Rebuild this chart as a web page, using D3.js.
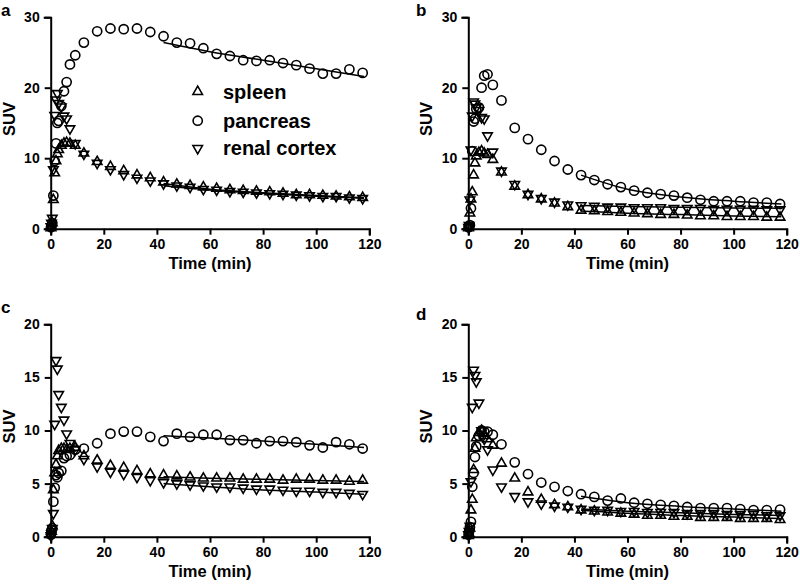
<!DOCTYPE html>
<html>
<head>
<meta charset="utf-8">
<script src="https://cdn.jsdelivr.net/npm/d3@7"></script>
<style>
  html, body { margin: 0; padding: 0; background: #fff; }
  svg { display: block; }
  text { font-family: "Liberation Sans", Arial, sans-serif; font-weight: bold; fill: #000; }
</style>
</head>
<body>
<svg id="chart" width="800" height="587"></svg>
<script>
// ---------------- DATA ----------------
const times = [0.1, 0.3, 0.6, 1.0, 1.5, 2.0, 2.5, 3.0, 4.0, 5.0, 6.0, 7.25, 9.25,
  12.5, 17.5, 22.5, 27.5, 32.5, 37.5, 42.5, 47.5, 52.5, 57.5, 62.5, 67.5, 72.5,
  77.5, 82.5, 87.5, 92.5, 97.5, 102.5, 107.5, 112.5, 117.5];

const seriesNames = ["spleen", "pancreas", "renal cortex"];
const panelLetters = ["a", "b", "c", "d"];
const xTicks = [0, 20, 40, 60, 80, 100, 120];
const yTicksTop = [0, 10, 20, 30];
const yTicksBottom = [0, 5, 10, 15, 20];

// panel a
const spleenA = [0.1,0.3,0.8,4.1,7.9,9.6,10.6,11.2,11.8,12.1,12.2,12.1,11.8,
  10.7,9.5,8.8,8.2,7.6,7.2,6.6,6.3,6.1,5.9,5.7,5.5,5.4,5.3,5.2,5.0,4.8,4.8,4.7,4.6,4.5,4.4];
const pancreasA = [0.2,0.4,0.8,4.7,9.6,12.1,15.0,15.3,17.4,19.5,20.8,23.3,24.6,
  26.4,28.0,28.4,28.3,28.4,27.9,27.3,26.4,26.3,25.6,24.8,24.5,23.9,23.8,23.9,23.5,23.2,22.7,22.0,22.0,22.6,22.1];
const renalA = [0.3,0.8,1.5,8.4,16.1,18.3,19.2,17.8,17.3,16.0,15.6,14.2,12.1,
  10.6,9.3,8.4,7.7,7.2,6.8,6.4,6.1,5.9,5.6,5.5,5.3,5.2,5.1,5.0,4.9,4.8,4.7,4.6,4.6,4.4,4.3];

// panel b
const spleenB = [0.1,0.3,2.2,4.2,5.2,7.6,9.3,10.3,10.8,11.0,10.7,10.5,9.8,
  8.0,6.0,4.8,4.2,3.6,3.1,2.6,2.5,2.4,2.3,2.2,2.1,2.0,2.0,1.9,1.8,1.8,1.7,1.7,1.7,1.6,1.6];
const pancreasB = [0.2,0.3,0.5,2.9,11.0,15.2,15.6,17.0,17.2,20.0,21.7,21.9,20.4,
  18.2,14.3,12.7,11.2,9.6,8.4,7.6,6.9,6.3,5.9,5.4,5.1,4.9,4.7,4.4,4.1,3.9,3.9,3.9,3.7,3.7,3.5];
const renalB = [0.2,0.5,4.1,11.2,16.0,18.0,17.7,17.2,16.8,15.8,15.6,13.2,10.9,
  8.2,6.3,4.9,4.3,3.8,3.4,3.3,3.2,3.1,3.1,3.0,3.0,3.0,2.9,2.9,2.9,2.8,2.8,2.8,2.8,2.7,2.7];

// panel c
const spleenC = [0.2,0.5,1.0,4.4,6.0,6.8,7.6,8.1,8.3,8.3,8.2,8.3,8.4,
  7.6,7.2,6.7,6.5,6.2,5.9,5.8,5.7,5.6,5.5,5.5,5.5,5.4,5.4,5.4,5.3,5.4,5.4,5.3,5.3,5.2,5.3];
const pancreasC = [0.2,0.6,0.8,3.3,4.6,5.8,5.6,6.0,6.2,7.4,7.6,7.7,8.2,
  8.3,8.8,9.7,9.9,9.9,9.4,9.0,9.7,9.4,9.6,9.6,9.1,9.1,8.8,9.0,9.0,8.9,8.6,8.4,8.9,8.7,8.3];
const renalC = [0.1,0.3,0.8,2.2,10.6,16.6,15.8,13.4,12.2,11.0,9.7,8.8,8.2,
  7.3,6.6,6.1,5.9,5.6,5.3,5.1,5.0,4.9,4.8,4.7,4.7,4.6,4.5,4.5,4.4,4.3,4.3,4.2,4.2,4.1,4.0];

// panel d
const spleenD = [0.1,0.3,0.8,2.5,3.5,6.3,8.3,9.3,9.8,10.0,9.5,9.2,8.6,
  6.9,5.5,4.2,3.5,3.0,2.8,2.5,2.4,2.3,2.2,2.1,2.0,2.0,1.9,1.9,1.8,1.8,1.8,1.7,1.7,1.7,1.6];
const pancreasD = [0.2,0.5,0.9,1.4,4.7,6.0,7.5,8.5,9.5,10.0,9.9,9.9,9.6,
  8.7,7.0,5.9,5.1,4.7,4.3,4.0,3.75,3.4,3.6,3.2,3.1,3.0,2.9,2.8,2.7,2.7,2.7,2.6,2.5,2.5,2.55];
const renalD = [0.2,0.5,1.0,5.2,12.2,15.7,15.2,14.6,12.6,10.0,9.2,8.2,6.3,
  4.7,3.8,3.3,3.1,2.9,2.8,2.6,2.5,2.5,2.4,2.4,2.3,2.3,2.3,2.2,2.2,2.2,2.1,2.1,2.1,2.0,2.0];

// fitted curves (late phase)
const fitTimes = [42.5, 60, 80, 100, 118];
const fitSpleenA = [6.4, 5.6, 5.1, 4.7, 4.4];
const fitPancreasA = [26.4, 25.1, 23.9, 22.7, 21.6];
const fitRenalA = [6.1, 5.5, 5.0, 4.6, 4.3];
const fitSpleenB = [2.5, 2.2, 2.0, 1.8, 1.7];
const fitPancreasB = [7.6, 5.6, 4.5, 3.9, 3.5];
const fitRenalB = [3.3, 3.15, 3.05, 2.95, 2.9];
const fitSpleenC = [5.65, 5.5, 5.4, 5.3, 5.2];
const fitPancreasC = [9.5, 9.3, 9.0, 8.7, 8.4];
const fitRenalC = [5.0, 4.7, 4.4, 4.2, 4.0];
const fitSpleenD = [2.5, 2.2, 2.0, 1.85, 1.7];
const fitPancreasD = [3.8, 3.2, 2.85, 2.6, 2.4];
const fitRenalD = [2.6, 2.4, 2.25, 2.1, 2.0];

// ---------------- LAYOUT ----------------
const svg = d3.select("#chart");
const panels = [
  { letter: panelLetters[0], data: [spleenA, pancreasA, renalA], fits: [fitSpleenA, fitPancreasA, fitRenalA],
    yMax: 30, yTicks: yTicksTop, x0: 50.7, x1: 369.3, y0: 228.7, y1: 17.2, lx: 1, ly: 16, legend: true },
  { letter: panelLetters[1], data: [spleenB, pancreasB, renalB], fits: [fitSpleenB, fitPancreasB, fitRenalB],
    yMax: 30, yTicks: yTicksTop, x0: 468.3, x1: 786.7, y0: 228.7, y1: 17.2, lx: 416, ly: 16 },
  { letter: panelLetters[2], data: [spleenC, pancreasC, renalC], fits: [fitSpleenC, fitPancreasC, fitRenalC],
    yMax: 20, yTicks: yTicksBottom, x0: 50.7, x1: 369.3, y0: 536.7, y1: 324.3, lx: 1, ly: 313 },
  { letter: panelLetters[3], data: [spleenD, pancreasD, renalD], fits: [fitSpleenD, fitPancreasD, fitRenalD],
    yMax: 20, yTicks: yTicksBottom, x0: 468.3, x1: 786.7, y0: 536.7, y1: 324.3, lx: 416, ly: 320 }
];

const triS = 9.5, triH = triS * Math.sqrt(3) / 2;
const upTri = `M0,${-2*triH/3}L${triS/2},${triH/3}L${-triS/2},${triH/3}Z`;
const downTri = `M0,${2*triH/3}L${triS/2},${-triH/3}L${-triS/2},${-triH/3}Z`;

function drawMarker(g, kind, x, y) {
  if (kind === 1) {
    g.append("circle").attr("cx", x).attr("cy", y).attr("r", 4.6)
      .attr("fill", "none").attr("stroke", "#000").attr("stroke-width", 1.6);
  } else {
    g.append("path").attr("d", kind === 0 ? upTri : downTri)
      .attr("transform", `translate(${x},${y})`)
      .attr("fill", "none").attr("stroke", "#000").attr("stroke-width", 1.6)
      .attr("stroke-linejoin", "miter");
  }
}

panels.forEach(p => {
  const x = d3.scaleLinear().domain([0, 120]).range([p.x0, p.x1]);
  const y = d3.scaleLinear().domain([0, p.yMax]).range([p.y0, p.y1]);
  const g = svg.append("g");

  // axes
  const xAxis = d3.axisBottom(x).tickValues(xTicks).tickSizeOuter(0).tickSize(6).tickPadding(4);
  const yAxis = d3.axisLeft(y).tickValues(p.yTicks).tickSizeOuter(0).tickSize(6).tickPadding(5);
  const gx = g.append("g").attr("transform", `translate(0,${p.y0})`).call(xAxis);
  const gy = g.append("g").attr("transform", `translate(${p.x0},0)`).call(yAxis);
  [gx, gy].forEach(a => {
    a.select(".domain").attr("stroke", "#000").attr("stroke-width", 2).attr("stroke-linecap", "square");
    a.selectAll(".tick line").attr("stroke", "#000").attr("stroke-width", 2);
    a.selectAll(".tick text").attr("fill", "#000")
      .style("font-family", '"Liberation Sans", Arial, sans-serif')
      .style("font-weight", "bold").style("font-size", "14px");
  });

  // axis titles
  g.append("text").attr("x", (p.x0 + p.x1) / 2).attr("y", p.y0 + 40)
    .attr("text-anchor", "middle").style("font-size", "16.5px").text("Time (min)");
  g.append("text").attr("transform", `translate(${p.x0 - 36},${(p.y0 + p.y1) / 2 - 4}) rotate(-90)`)
    .attr("text-anchor", "middle").style("font-size", "16.5px").text("SUV");

  // panel letter
  g.append("text").attr("x", p.lx).attr("y", p.ly).style("font-size", "17px").text(p.letter);

  // fit lines
  const line = d3.line().x(d => x(d[0])).y(d => y(d[1])).curve(d3.curveMonotoneX);
  p.fits.forEach(f => {
    g.append("path").datum(fitTimes.map((t, i) => [t, f[i]]))
      .attr("d", line).attr("fill", "none").attr("stroke", "#000").attr("stroke-width", 1.5);
  });

  // markers
  p.data.forEach((vals, k) => {
    vals.forEach((v, i) => {
      if (v == null) return;
      drawMarker(g, k, x(times[i]), y(v));
    });
  });

  // legend
  if (p.legend) {
    const rows = [91.7, 120.7, 148.3];
    seriesNames.forEach((name, k) => {
      drawMarker(g, k, 197.7, rows[k]);
      g.append("text").attr("x", 223).attr("y", rows[k] + 7).style("font-size", "20px").text(name);
    });
  }
});
</script>
</body>
</html>
